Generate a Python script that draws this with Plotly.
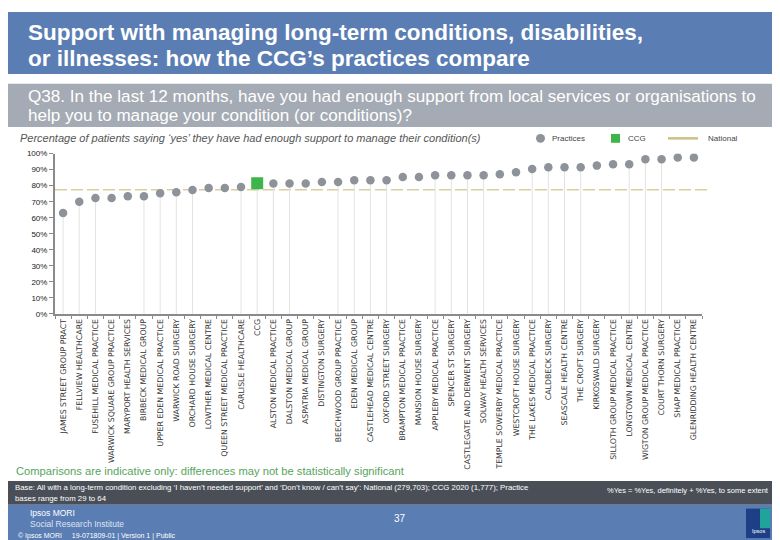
import plotly.graph_objects as go

# ---------------- data ----------------
categories = [
    "JAMES STREET GROUP PRACT", "FELLVIEW HEALTHCARE", "FUSEHILL MEDICAL PRACTICE",
    "WARWICK SQUARE GROUP PRACTICE", "MARYPORT HEALTH SERVICES", "BIRBECK MEDICAL GROUP",
    "UPPER EDEN MEDICAL PRACTICE", "WARWICK ROAD SURGERY", "ORCHARD HOUSE SURGERY",
    "LOWTHER MEDICAL CENTRE", "QUEEN STREET MEDICAL PRACTICE", "CARLISLE HEALTHCARE",
    "CCG", "ALSTON MEDICAL PRACTICE", "DALSTON MEDICAL GROUP", "ASPATRIA MEDICAL GROUP",
    "DISTINGTON SURGERY", "BEECHWOOD GROUP PRACTICE", "EDEN MEDICAL GROUP",
    "CASTLEHEAD MEDICAL CENTRE", "OXFORD STREET SURGERY", "BRAMPTON MEDICAL PRACTICE",
    "MANSION HOUSE SURGERY", "APPLEBY MEDICAL PRACTICE", "SPENCER ST SURGERY",
    "CASTLEGATE AND DERWENT SURGERY", "SOLWAY HEALTH SERVICES",
    "TEMPLE SOWERBY MEDICAL PRACTICE", "WESTCROFT HOUSE SURGERY",
    "THE LAKES MEDICAL PRACTICE", "CALDBECK SURGERY", "SEASCALE HEALTH CENTRE",
    "THE CROFT SURGERY", "KIRKOSWALD SURGERY", "SILLOTH GROUP MEDICAL PRACTICE",
    "LONGTOWN MEDICAL CENTRE", "WIGTON GROUP MEDICAL PRACTICE", "COURT THORN SURGERY",
    "SHAP MEDICAL PRACTICE", "GLENRIDDING HEALTH CENTRE",
]
values = [
    63.0, 70.0, 72.3, 72.3, 73.4, 73.4, 75.2, 75.9, 77.3, 78.6, 78.6, 79.2,
    81.5, 81.3, 81.3, 81.3, 82.3, 82.3, 83.4, 83.4, 83.4, 85.4, 85.4, 86.5,
    86.5, 86.5, 86.5, 87.1, 88.4, 90.4, 91.5, 91.5, 91.5, 92.5, 93.4, 93.4,
    96.5, 96.5, 97.6, 97.6,
]
ccg_label = "CCG"
national_value = 77.5
ytick_vals = [0, 10, 20, 30, 40, 50, 60, 70, 80, 90, 100]
ytick_text = ["0%", "10%", "20%", "30%", "40%", "50%", "60%", "70%", "80%", "90%", "100%"]
# categories whose drop line is visible in the reference
drop_line_cats = [categories[i] for i in
                  [0, 1, 2, 5, 6, 7, 8, 11, 12, 13, 14, 17, 18, 19, 20,
                   23, 24, 25, 26, 29, 30, 31, 32, 35, 36, 37]]

# ---------------- styling ----------------
W, H = 780, 540
BLUE = "#5A7DB4"
GREY_BAND = "#A5ABB4"
DARK_BAND = "#4A4F57"
DOT = "#8E939A"
GREEN = "#3DB54B"
NAT = "#D8CE9E"
FONT = "Liberation Sans, Arial, sans-serif"
WIDE = "DejaVu Sans, Verdana, sans-serif"

def px(x):
    return x / W

def py(y):
    return 1 - y / H

fig = go.Figure()

# drop lines
dx, dy = [], []
for c, v in zip(categories, values):
    if c in drop_line_cats:
        dx += [c, c, None]
        dy += [0, v, None]
fig.add_trace(go.Scatter(x=dx, y=dy, mode="lines", line=dict(color="#E3E3E3", width=1),
                         hoverinfo="skip", showlegend=False))

# practices
prac_x = [c for c in categories if c != ccg_label]
prac_y = [v for c, v in zip(categories, values) if c != ccg_label]
fig.add_trace(go.Scatter(x=prac_x, y=prac_y, mode="markers", name="Practices",
                         marker=dict(color=DOT, size=8.5, symbol="circle"),
                         showlegend=False))
# CCG
ccg_y = [v for c, v in zip(categories, values) if c == ccg_label]
fig.add_trace(go.Scatter(x=[ccg_label], y=ccg_y, mode="markers", name="CCG",
                         marker=dict(color=GREEN, size=12, symbol="square"),
                         showlegend=False))

x0d, x1d = px(47), px(694)
fig.update_layout(
    width=W, height=H, margin=dict(l=0, r=0, t=0, b=0),
    paper_bgcolor="white", plot_bgcolor="rgba(0,0,0,0)",
    font=dict(family=FONT, color="#333"),
    xaxis=dict(domain=[x0d, x1d], type="category", categoryorder="array",
               categoryarray=categories, range=[-0.5, len(categories) - 0.5],
               tickangle=-90, tickfont=dict(size=7.8, color="#333", family=WIDE),
               showgrid=False, showline=True, linecolor="#8A8A8A", linewidth=2,
               ticks="outside", tickson="boundaries", ticklen=3, tickcolor="#8A8A8A",
               zeroline=False, anchor="y", fixedrange=True),
    yaxis=dict(domain=[py(307), py(144)], range=[0, 100], tickvals=ytick_vals,
               ticktext=ytick_text, tickfont=dict(size=8, color="#222"),
               showgrid=False, showline=True, linecolor="#8A8A8A", linewidth=2,
               ticks="outside", ticklen=4, tickcolor="#8A8A8A", zeroline=False,
               anchor="x", fixedrange=True),
)

shapes = []
# banners
shapes.append(dict(type="rect", xref="paper", yref="paper", x0=0, x1=1, y0=py(63), y1=1,
                   fillcolor=BLUE, line=dict(width=0), layer="below"))
shapes.append(dict(type="rect", xref="paper", yref="paper", x0=0, x1=1, y0=py(117), y1=py(73),
                   fillcolor=GREY_BAND, line=dict(width=0), layer="below"))
shapes.append(dict(type="rect", xref="paper", yref="paper", x0=0, x1=1, y0=py(501), y1=py(477),
                   fillcolor=DARK_BAND, line=dict(width=0), layer="below"))
shapes.append(dict(type="rect", xref="paper", yref="paper", x0=0, x1=1, y0=0, y1=py(501),
                   fillcolor=BLUE, line=dict(width=0), layer="below"))
# national line
shapes.append(dict(type="line", xref="paper", yref="y", x0=x0d, x1=px(700),
                   y0=national_value, y1=national_value,
                   line=dict(color=NAT, width=1.5, dash="12px,4px"), layer="below"))
# legend symbols
shapes.append(dict(type="circle", xref="paper", yref="paper", x0=px(528), x1=px(537),
                   y0=py(133), y1=py(124), fillcolor=DOT, line=dict(width=0)))
shapes.append(dict(type="rect", xref="paper", yref="paper", x0=px(603), x1=px(612),
                   y0=py(133), y1=py(124), fillcolor=GREEN, line=dict(width=0)))
shapes.append(dict(type="line", xref="paper", yref="paper", x0=px(660), x1=px(690),
                   y0=py(128.5), y1=py(128.5), line=dict(color="#CDBF85", width=2.5)))
# logo
shapes.append(dict(type="rect", xref="paper", yref="paper", x0=px(738), x1=px(762),
                   y0=py(535), y1=py(505), fillcolor="#1E3F86", line=dict(width=0)))
shapes.append(dict(type="rect", xref="paper", yref="paper", x0=px(752), x1=px(762),
                   y0=py(525), y1=py(505), fillcolor="#1FA39A", line=dict(width=0)))
fig.update_layout(shapes=shapes)

ann = []
def text(x, y, s, size, color="white", anchor="left", family=FONT, italic=False, bold=False):
    if italic:
        s = "<i>" + s + "</i>"
    if bold:
        s = "<b>" + s + "</b>"
    ann.append(dict(xref="paper", yref="paper", x=px(x), y=py(y), text=s,
                    showarrow=False, xanchor=anchor, yanchor="middle",
                    font=dict(size=size, color=color, family=family)))

text(18, 21, "Support with managing long-term conditions, disabilities,", 22.5, bold=True)
text(18, 47, "or illnesses: how the CCG\u2019s practices compare", 22.5, bold=True)
text(18, 86, "Q38. In the last 12 months, have you had enough support from local services or organisations to", 17.1)
text(18, 105, "help you to manage your condition (or conditions)?", 17.1)
text(10, 128, "Percentage of patients saying \u2018yes\u2019 they have had enough support to manage their condition(s)",
     11, color="#555", italic=True)
text(542, 129, "Practices", 8, color="#444")
text(618, 129, "CCG", 8, color="#444")
text(698, 129, "National", 8, color="#444")
text(6, 467, "Comparisons are indicative only: differences may not be statistically significant",
     11.2, color="#57A45B")
text(5, 484, "Base: All with a long-term condition excluding \u2018I haven\u2019t needed support\u2019 and \u2018Don\u2019t know / can\u2019t say\u2019: National (279,703); CCG 2020 (1,777); Practice",
     7.8)
text(5, 495, "bases range from 29 to 64", 7.8)
text(597, 487, "%Yes = %Yes, definitely + %Yes, to some extent", 7.5)
text(20, 509, "Ipsos MORI", 8.5)
text(20, 521, "Social Research Institute", 8.5, color="#DDE4F0")
text(8, 533, "\u00a9 Ipsos MORI     19-071809-01 | Version 1 | Public", 7)
text(392, 515, "37", 10, anchor="center")
text(750, 528, "Ipsos", 5.5, anchor="center")
fig.update_layout(annotations=ann)

fig.write_html("out.html")
